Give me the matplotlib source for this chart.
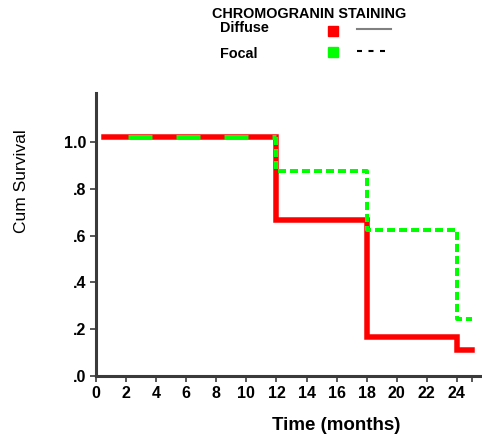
import matplotlib
matplotlib.use("Agg")
import matplotlib.pyplot as plt
from matplotlib.lines import Line2D

plt.rcParams['font.family'] = ['Liberation Sans', 'DejaVu Sans']
plt.rcParams['lines.scale_dashes'] = False

# Data
months_diffuse = [0.5, 12, 18, 24, 25]
surv_diffuse = [1.02, 0.667, 0.167, 0.11, 0.11]
months_focal = [0.5, 12, 18, 24, 25]
surv_focal = [1.02, 0.875, 0.625, 0.245, 0.235]
x_ticks = list(range(0, 25, 2))
y_ticks = [0.0, 0.2, 0.4, 0.6, 0.8, 1.0]
y_tick_labels = ['.0', '.2', '.4', '.6', '.8', '1.0']
legend_title = 'CHROMOGRANIN STAINING'
group_names = ['Diffuse', 'Focal']

W, H = 482, 440
fig = plt.figure(figsize=(W / 100, H / 100), dpi=100)
ax = fig.add_axes([96 / W, 1 - 376 / H, (481 - 96) / W, (376 - 93) / H])

red = '#ff0000'
green = '#00ff00'
px = 0.72  # points per pixel

# Diffuse: solid red step
ax.step(months_diffuse, surv_diffuse, where='post', color=red, lw=5.5 * px,
        solid_joinstyle='miter', zorder=2)

# Focal: first plateau with long dashes, remaining steps with short dashes
ax.plot(months_focal[:2], [surv_focal[0]] * 2, color=green, lw=5 * px,
        linestyle=(24 * px, (24 * px, 24 * px)), dash_capstyle='butt', zorder=3)
ax.step(months_focal[1:], surv_focal[:-1], where='pre', color=green,
        lw=4 * px, linestyle=(0, (8 * px, 4 * px)), dash_capstyle='butt',
        zorder=3)

ax.set_xlim(0, 25.6)
ax.set_ylim(0, 1.21)
ax.set_xticks(x_ticks + [25])
ax.set_xticklabels([str(t) for t in x_ticks] + [''])
ax.set_yticks(y_ticks)
ax.set_yticklabels(y_tick_labels)
for s in ['top', 'right']:
    ax.spines[s].set_visible(False)
for s in ['left', 'bottom']:
    ax.spines[s].set_color('#3a3a3a')
    ax.spines[s].set_linewidth(2.2)
ax.tick_params(axis='both', colors='#3a3a3a', width=1.2, length=4,
               labelsize=11.5, labelcolor='black', pad=3)
for lab in ax.get_xticklabels() + ax.get_yticklabels():
    lab.set_fontweight('bold')

fig.text(22 / W, 1 - 181 / H, 'Cum Survival', rotation=90, ha='center',
         va='center', fontsize=12.5)
fig.text(336 / W, 1 - 425 / H, 'Time (months)', ha='center', va='center',
         fontsize=13.5, fontweight='bold')

# Legend drawn at top
fig.text(212 / W, 1 - 14 / H, legend_title, ha='left', va='center',
         fontsize=10.4, fontweight='bold')
fig.text(220 / W, 1 - 28 / H, group_names[0], ha='left', va='center',
         fontsize=10.4, fontweight='bold')
fig.text(220 / W, 1 - 54 / H, group_names[1], ha='left', va='center',
         fontsize=10.4, fontweight='bold')
fig.add_artist(Line2D([333 / W], [1 - 31 / H], marker='s', markersize=6.5,
                      color=red, linestyle='none', transform=fig.transFigure))
fig.add_artist(Line2D([333 / W], [1 - 52 / H], marker='s', markersize=6.5,
                      color=green, linestyle='none', transform=fig.transFigure))
fig.add_artist(Line2D([357 / W, 391 / W], [1 - 29 / H] * 2, color='#808080',
                      lw=1.5, transform=fig.transFigure))
fig.add_artist(Line2D([357 / W, 391 / W], [1 - 51 / H] * 2, color='black',
                      lw=1.5, linestyle=(0, (5 * px, 6.5 * px)),
                      transform=fig.transFigure))

fig.savefig('out.png', dpi=100)
